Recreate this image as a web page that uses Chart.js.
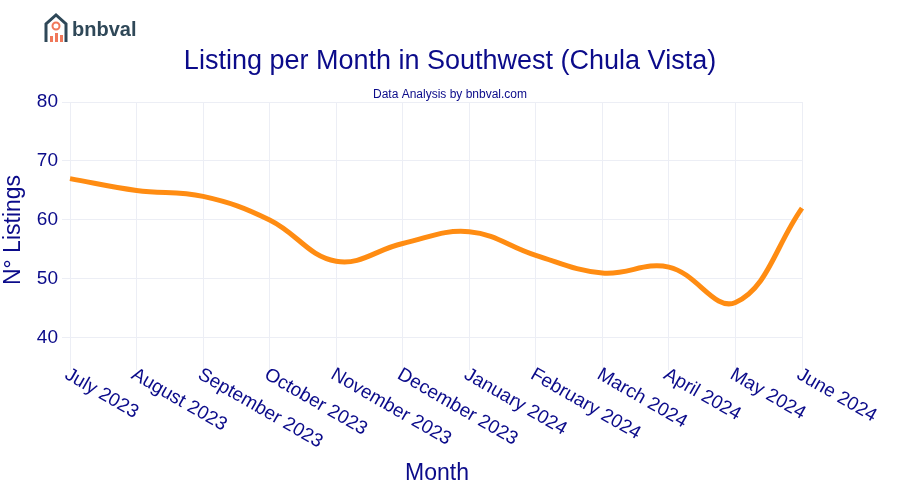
<!DOCTYPE html><html><head><script src="https://cdn.jsdelivr.net/npm/chart.js@4"></script>
<style>body{margin:0;background:#fff}#w{width:900px;height:500px}</style></head><body><div id="w"><canvas id="c"></canvas></div>
<script>
const months=["July 2023","August 2023","September 2023","October 2023","November 2023","December 2023","January 2024","February 2024","March 2024","April 2024","May 2024","June 2024"];
const listings=[67,65,64,60,53,56,58,54,51,52,46,62];
const yTicks=[40,50,60,70,80];
const NAVY="#0b0b8a",FONT="Liberation Sans, Arial, sans-serif";
const deco={id:"deco",afterDraw(ch){const c=ch.ctx,x=ch.scales.x;c.save();c.fillStyle=NAVY;
c.font="27px "+FONT;c.textAlign="center";c.textBaseline="middle";c.fillText("Listing per Month in Southwest (Chula Vista)",450,62);
c.font="12px "+FONT;c.fillText("Data Analysis by bnbval.com",450,95);
c.font="23px "+FONT;c.fillText("Month",437,474);
c.save();c.translate(14,230);c.rotate(-Math.PI/2);c.fillText("N° Listings",0,0);c.restore();
c.font="19px "+FONT;c.textAlign="left";c.textBaseline="top";
months.forEach((m,i)=>{const px=x.getPixelForValue(i);c.save();c.translate(px+1,365);c.rotate(Math.PI/6);c.fillText(m,0,0);c.restore();});
c.strokeStyle="#2f4858";c.lineWidth=3;c.beginPath();c.moveTo(46,42);c.lineTo(46,24);c.lineTo(56,15);c.lineTo(66,24);c.lineTo(66,42);c.stroke();
c.fillStyle="#f0785a";[[50,36,3,6],[55,33,3,9],[60,35,3,7]].forEach(r=>c.fillRect(...r));
c.beginPath();c.arc(56,26,3.5,0,7);c.strokeStyle="#f0785a";c.lineWidth=2;c.stroke();
c.fillStyle="#2f4858";c.font="bold 20px "+FONT;c.textBaseline="middle";c.fillText("bnbval",72,30);
c.restore();}};
new Chart(document.getElementById("c"),{type:"line",data:{labels:months,datasets:[{data:listings,borderColor:"#ff8c12",borderWidth:5,pointRadius:0,tension:0.4,fill:false}]},
options:{responsive:true,maintainAspectRatio:false,animation:false,layout:{padding:{top:102,bottom:130,left:30,right:98}},
plugins:{legend:{display:false},tooltip:{enabled:false}},
scales:{x:{offset:false,grid:{color:"#eceef5"},border:{display:false},ticks:{display:false}},
y:{min:35.9,max:80,grid:{color:"#eceef5"},border:{display:false},afterFit(s){s.width=40;},
afterBuildTicks(s){s.ticks=yTicks.map(v=>({value:v}));},
ticks:{color:NAVY,font:{size:19,family:FONT},padding:4}}}},plugins:[deco]});
</script></body></html>
